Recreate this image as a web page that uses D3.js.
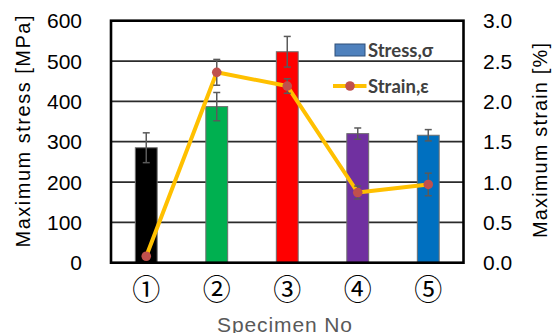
<!DOCTYPE html>
<html>
<head>
<meta charset="utf-8">
<script src="https://cdn.jsdelivr.net/npm/d3@7"></script>
<style>
  html, body { margin: 0; padding: 0; background: #fff; }
  svg { display: block; }
</style>
</head>
<body>
<svg id="chart" width="554" height="333"></svg>
<script>
// Specimen categories and measured values
const specimens = ["①", "②", "③", "④", "⑤"];
const stressMean = [285, 387, 523, 320, 316];      // MPa
const stressErr  = [37, 35, 38, 14, 14];            // MPa
const strainMean = [0.08, 2.36, 2.19, 0.87, 0.97];  // %
const strainErr  = [0.0, 0.16, 0.09, 0.08, 0.14];   // %
const barColors  = ["#000000", "#00B050", "#FF0000", "#7030A0", "#0070C0"];
const stressTicks = [0, 100, 200, 300, 400, 500, 600];
const strainTicks = [0, 0.5, 1.0, 1.5, 2.0, 2.5, 3.0];

const svg = d3.select("#chart");
const plot = { left: 111, right: 463.5, top: 20.7, bottom: 262.7 };

const x = d3.scaleBand()
  .domain(specimens)
  .range([plot.left, plot.right])
  .paddingInner(0.69)
  .paddingOuter(0.345);
const yL = d3.scaleLinear().domain([0, 600]).range([plot.bottom, plot.top]);
const yR = d3.scaleLinear().domain([0, 3]).range([plot.bottom, plot.top]);

const tickFont = "'Liberation Sans', Arial, sans-serif";

// Horizontal gridlines
svg.append("g")
  .selectAll("line")
  .data(stressTicks.filter(t => t > 0 && t < 600))
  .join("line")
  .attr("x1", plot.left).attr("x2", plot.right)
  .attr("y1", d => yL(d)).attr("y2", d => yL(d))
  .attr("stroke", "#2b2b2b")
  .attr("stroke-width", 1.8);

// Stress bars
svg.append("g")
  .selectAll("rect")
  .data(specimens)
  .join("rect")
  .attr("x", d => x(d))
  .attr("width", x.bandwidth())
  .attr("y", (d, i) => yL(stressMean[i]))
  .attr("height", (d, i) => plot.bottom - yL(stressMean[i]))
  .attr("fill", (d, i) => barColors[i])
  .attr("stroke", "#6e6e6e")
  .attr("stroke-width", 1);

// Error bars helper
function errorBars(g, cx, lo, hi, cap) {
  g.append("line").attr("x1", cx).attr("x2", cx).attr("y1", lo).attr("y2", hi);
  g.append("line").attr("x1", cx - cap).attr("x2", cx + cap).attr("y1", lo).attr("y2", lo);
  g.append("line").attr("x1", cx - cap).attr("x2", cx + cap).attr("y1", hi).attr("y2", hi);
}

const errG = svg.append("g").attr("stroke", "#5a5a5a").attr("stroke-width", 1.5);
specimens.forEach((s, i) => {
  const cx = x(s) + x.bandwidth() / 2;
  errorBars(errG, cx, yL(stressMean[i] - stressErr[i]), yL(stressMean[i] + stressErr[i]), 3.5);
});

// Frame around plot area
svg.append("rect")
  .attr("x", plot.left).attr("y", plot.top)
  .attr("width", plot.right - plot.left)
  .attr("height", plot.bottom - plot.top)
  .attr("fill", "none")
  .attr("stroke", "#000")
  .attr("stroke-width", 2.6);

// Strain line
const line = d3.line()
  .x((d, i) => x(specimens[i]) + x.bandwidth() / 2)
  .y(d => yR(d));
svg.append("path")
  .datum(strainMean)
  .attr("d", line)
  .attr("fill", "none")
  .attr("stroke", "#FFC000")
  .attr("stroke-width", 4)
  .attr("stroke-linejoin", "round");

const errS = svg.append("g").attr("stroke", "#5a5a5a").attr("stroke-width", 1.5);
specimens.forEach((s, i) => {
  if (strainErr[i] > 0) {
    const cx = x(s) + x.bandwidth() / 2;
    errorBars(errS, cx, yR(strainMean[i] - strainErr[i]), yR(strainMean[i] + strainErr[i]), 3.5);
  }
});

svg.append("g")
  .selectAll("circle")
  .data(strainMean)
  .join("circle")
  .attr("cx", (d, i) => x(specimens[i]) + x.bandwidth() / 2)
  .attr("cy", d => yR(d))
  .attr("r", 4.8)
  .attr("fill", "#C0504D");

// Left axis tick labels
svg.append("g")
  .selectAll("text")
  .data(stressTicks)
  .join("text")
  .attr("x", 82)
  .attr("y", d => yL(d))
  .attr("dy", "0.36em")
  .attr("text-anchor", "end")
  .attr("font-family", tickFont)
  .attr("font-size", 21)
  .attr("fill", "#000")
  .text(d => d);

// Right axis tick labels
svg.append("g")
  .selectAll("text")
  .data(strainTicks)
  .join("text")
  .attr("x", 483)
  .attr("y", d => yR(d))
  .attr("dy", "0.36em")
  .attr("text-anchor", "start")
  .attr("font-family", tickFont)
  .attr("font-size", 21)
  .attr("fill", "#000")
  .text(d => d.toFixed(1));

// Category labels
svg.append("g")
  .selectAll("text")
  .data(specimens)
  .join("text")
  .attr("x", d => x(d) + x.bandwidth() / 2)
  .attr("y", 289.5)
  .attr("dy", "0.36em")
  .attr("text-anchor", "middle")
  .attr("font-family", "'Noto Sans CJK JP', sans-serif")
  .attr("font-size", 28)
  .attr("fill", "#000")
  .text(d => d);

// Axis titles
svg.append("text")
  .attr("transform", "translate(23,131.5) rotate(-90)")
  .attr("dy", "0.36em")
  .attr("text-anchor", "middle")
  .attr("font-family", tickFont)
  .attr("font-size", 20)
  .attr("textLength", 232)
  .attr("lengthAdjust", "spacing")
  .attr("fill", "#000")
  .text("Maximum stress [MPa]");

svg.append("text")
  .attr("transform", "translate(540,140.5) rotate(-90)")
  .attr("dy", "0.36em")
  .attr("text-anchor", "middle")
  .attr("font-family", tickFont)
  .attr("font-size", 20)
  .attr("textLength", 195)
  .attr("lengthAdjust", "spacing")
  .attr("fill", "#000")
  .text("Maximum strain [%]");

svg.append("text")
  .attr("x", 284.5)
  .attr("y", 332)
  .attr("text-anchor", "middle")
  .attr("font-family", tickFont)
  .attr("font-size", 21)
  .attr("textLength", 135)
  .attr("lengthAdjust", "spacing")
  .attr("fill", "#595959")
  .text("Specimen No");

// Legend
const legend = svg.append("g");
legend.append("rect")
  .attr("x", 335).attr("y", 44)
  .attr("width", 30).attr("height", 12)
  .attr("fill", "#4F81BD")
  .attr("stroke", "#2f4f78")
  .attr("stroke-width", 1);
legend.append("text")
  .attr("x", 368).attr("y", 50.5)
  .attr("dy", "0.36em")
  .attr("font-family", "Lato, 'Open Sans', sans-serif")
  .attr("font-weight", "bold")
  .attr("font-size", 18.5)
  .attr("fill", "#404040")
  .text("Stress,σ");
legend.append("line")
  .attr("x1", 333).attr("x2", 366.5)
  .attr("y1", 86).attr("y2", 86)
  .attr("stroke", "#FFC000")
  .attr("stroke-width", 4);
legend.append("circle")
  .attr("cx", 350).attr("cy", 86).attr("r", 4.8)
  .attr("fill", "#C0504D");
legend.append("text")
  .attr("x", 368).attr("y", 86)
  .attr("dy", "0.36em")
  .attr("font-family", "Lato, 'Open Sans', sans-serif")
  .attr("font-weight", "bold")
  .attr("font-size", 18.5)
  .attr("fill", "#404040")
  .text("Strain,ε");
</script>
</body>
</html>
